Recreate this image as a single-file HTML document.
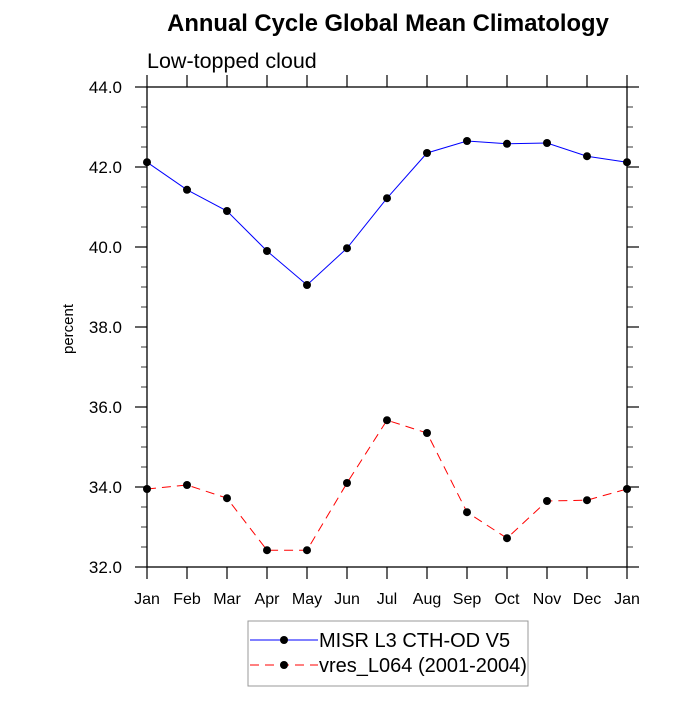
<!DOCTYPE html>
<html><head><meta charset="utf-8"><style>
body{margin:0;background:#fff;}
svg text{font-family:"Liberation Sans",Arial,sans-serif;}
</style></head><body>
<svg id="chart" width="700" height="700" viewBox="0 0 700 700" xmlns="http://www.w3.org/2000/svg">
<text x="388" y="31" font-size="23.8" font-weight="bold" text-anchor="middle">Annual Cycle Global Mean Climatology</text>
<text x="147" y="68" font-size="21.5">Low-topped cloud</text>
<text transform="translate(73,329) rotate(-90)" font-size="15" text-anchor="middle">percent</text>
<g id="axes"></g>
<g id="series"></g>
<g>
<rect x="248" y="621" width="280" height="65" fill="none" stroke="#999" stroke-width="1"/>
<g>
<line x1="250" y1="640" x2="318" y2="640" stroke="#0000ff" stroke-width="1"/>
<circle cx="284" cy="640" r="4" fill="#000"/>
<text x="319" y="647" font-size="20">MISR L3 CTH-OD V5</text>
</g>
<g>
<line x1="250" y1="665" x2="318" y2="665" stroke="#ff0000" stroke-width="1" stroke-dasharray="9,6"/>
<circle cx="284" cy="665" r="4" fill="#000"/>
<text x="319" y="672" font-size="20">vres_L064 (2001-2004)</text>
</g>
</g>
</svg>
<script>
const months=["Jan","Feb","Mar","Apr","May","Jun","Jul","Aug","Sep","Oct","Nov","Dec","Jan"];
const misr=[42.12,41.43,40.9,39.9,39.05,39.97,41.22,42.35,42.65,42.58,42.6,42.27,42.12];
const vres=[33.95,34.05,33.72,32.42,32.42,34.1,35.67,35.35,33.37,32.72,33.65,33.67,33.95];
const yTicks=["32.0","34.0","36.0","38.0","40.0","42.0","44.0"];
const L=147,R=627,T=87,B=567,ymin=32,ymax=44;
const xs=i=>L+(R-L)*i/(months.length-1);
const ys=v=>B-(v-ymin)/(ymax-ymin)*(B-T);
const NS="http://www.w3.org/2000/svg";
function mk(tag,attrs,parent){const e=document.createElementNS(NS,tag);for(const k in attrs)e.setAttribute(k,attrs[k]);parent.appendChild(e);return e;}
const ax=document.getElementById('axes');
const frame=mk('rect',{x:L,y:T,width:R-L,height:B-T,fill:'none',stroke:'#000','stroke-width':1.3},ax);


months.forEach((m,i)=>{const x=xs(i);
 mk('line',{x1:x,y1:B,x2:x,y2:B+12,stroke:'#000','stroke-width':1.2},ax);
 mk('line',{x1:x,y1:T,x2:x,y2:T-12,stroke:'#000','stroke-width':1.2},ax);
 const t=mk('text',{x:x,y:604,'font-size':16,'text-anchor':'middle'},ax);t.textContent=m;
 
 
});
for(let v=ymin;v<=ymax+1e-9;v+=0.5){const y=ys(v);const major=Math.abs(v/2-Math.round(v/2))<1e-6;const len=major?12:6;
 mk('line',{x1:L,y1:y,x2:L-len,y2:y,stroke:'#000','stroke-width':major?1.2:0.8},ax);
 mk('line',{x1:R,y1:y,x2:R+len,y2:y,stroke:'#000','stroke-width':major?1.2:0.8},ax);}
yTicks.forEach(s=>{const y=ys(parseFloat(s));const t=mk('text',{x:122,y:y+6,'font-size':17,'text-anchor':'end'},ax);t.textContent=s;
 
 });
const sg=document.getElementById('series');
function draw(data,color,dash,name){
 const p=mk('polyline',{points:data.map((v,i)=>xs(i)+','+ys(v)).join(' '),fill:'none',stroke:color,'stroke-width':1,'stroke-dasharray':dash},sg);
 
 
 data.forEach((v,i)=>{const c=mk('circle',{cx:xs(i),cy:ys(v),r:4,fill:'#000'},sg);
  
  });
}
draw(misr,'#0000ff','none','misr');
draw(vres,'#ff0000','9,6','vres');
</script>
</body></html>
